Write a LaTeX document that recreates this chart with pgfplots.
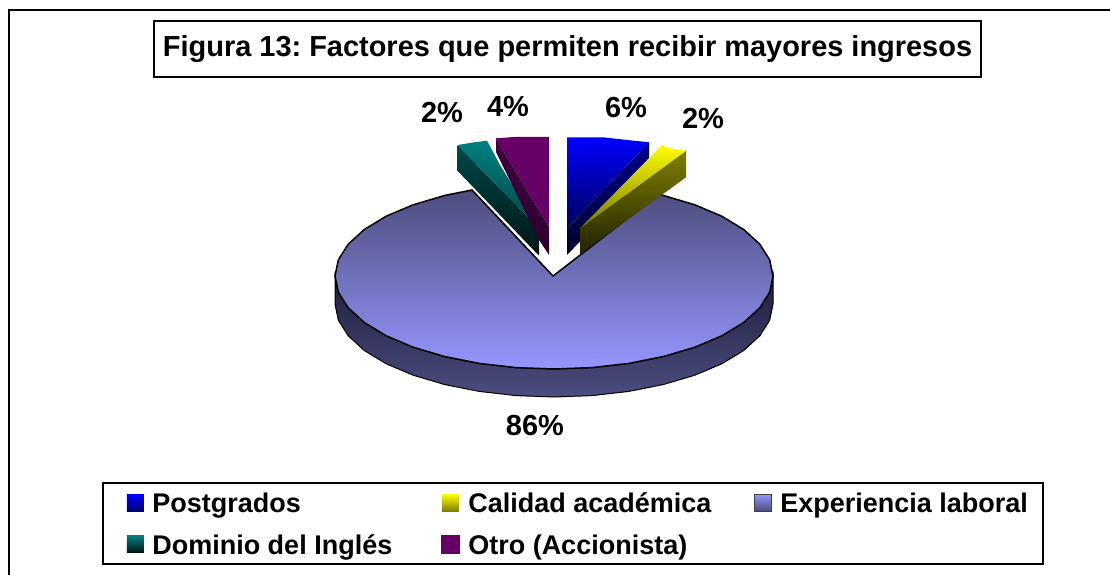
\documentclass[border=0pt]{standalone}
\usepackage{fontspec}
\setmainfont{Liberation Sans}
\usepackage{pgfplots}
\pgfplotsset{compat=1.18}
\definecolor{discTop}{HTML}{4C4C7C}
\definecolor{discBot}{HTML}{9696FF}
\definecolor{edgeTop}{HTML}{1E1E3C}
\definecolor{edgeBot}{HTML}{4D4D80}
\newcommand{\titlefont}{\fontsize{28.95}{32}\selectfont\bfseries}
\newcommand{\legfont}{\fontsize{27}{30}\selectfont\bfseries}
\newcommand{\labfont}{\fontsize{29}{32}\selectfont\bfseries}
\newcommand{\swatch}[3]{\fill[draw=none,top color=#1,bottom color=#2,#3] (0pt,-8.5pt) rectangle (17pt,8.5pt);}
\newcommand{\lstrut}{\rule[-6pt]{0pt}{28pt}}
\begin{document}
\frenchspacing
\begin{tikzpicture}
\begin{axis}[
  name=ax,
  scale only axis, width=1110pt, height=575pt,
  xmin=0, xmax=1110, ymin=0, ymax=575, y dir=reverse,
  axis lines=none, clip=true,
  every axis title shift=0pt,
  title={\raisebox{-1.5pt}{Figura 13: Factores que permiten recibir mayores ingresos}},
  title style={at={(0.5113,0.9148)},anchor=center,draw=black,line width=1.5pt,fill=white,
    font=\titlefont,minimum width=827pt,minimum height=56pt,inner sep=0pt},
  legend columns=3,
  legend cell align=left,
  legend style={at={(0.0919,0.1617)},anchor=north west,draw=black,line width=1.5pt,
    font=\legfont,inner xsep=13pt,inner ysep=6pt,row sep=14pt,
    /tikz/every odd column/.append style={column sep=6.5pt},
    /tikz/every even column/.append style={column sep=40.5pt}},
]
% legend
\addlegendimage{legend image code/.code={\path[draw=none] (-11pt,0pt) -- (0pt,0pt);\swatch{blue}{black!55!blue}{}}}
\addlegendentry{\lstrut Postgrados}
\addlegendimage{legend image code/.code={\swatch{yellow}{black!50!yellow}{}}}
\addlegendentry{\lstrut Calidad académica}
\addlegendimage{legend image code/.code={\swatch{discBot}{discTop}{draw=black!75,line width=1pt}}}
\addlegendentry{\lstrut Experiencia laboral}
\addlegendimage{legend image code/.code={\path[draw=none] (-11pt,0pt) -- (0pt,0pt);\swatch{teal}{black!85!teal}{}}}
\addlegendentry{\lstrut Dominio del Inglés\rule{6pt}{0pt}}
\addlegendimage{legend image code/.code={\fill[draw=none,fill={rgb,255:red,102;green,0;blue,102}] (-1pt,-9.5pt) rectangle (18pt,9.5pt);}}
\addlegendentry{\lstrut Otro (Accionista)}

% outer frame
\addplot[forget plot,black,line width=2pt] coordinates {(9,580) (9,10) (1115,10)};

% disc edge
\addplot[forget plot,draw=black,line width=1pt,top color=edgeTop,bottom color=edgeBot] coordinates {
 (773,276) (769.7,292.1) (759.8,307.8) (743.7,322.5) (721.8,335.8) (694.8,347.2) (663.5,356.5)
 (628.9,363.4) (592,367.6) (554,369) (516,367.6) (479.1,363.4) (444.5,356.5) (413.2,347.2)
 (386.2,335.8) (364.3,322.5) (348.2,307.8) (338.3,292.1) (335,276)
 (335,304) (338.3,320.1) (348.2,335.8) (364.3,350.5) (386.2,363.8) (413.2,375.2) (444.5,384.5)
 (479.1,391.4) (516,395.6) (554,397) (592,395.6) (628.9,391.4) (663.5,384.5) (694.8,375.2)
 (721.8,363.8) (743.7,350.5) (759.8,335.8) (769.7,320.1) (773,304)
} --cycle;
% disc top (86%)
\addplot[forget plot,draw=black,line width=1.5pt,top color=discTop,bottom color=discBot] coordinates {
 (553,276) (659,194.3) (663.5,195.5) (694.8,204.8) (721.8,216.2) (743.7,229.5) (759.8,244.2) (769.7,259.9)
 (773,276) (769.7,292.1) (759.8,307.8) (743.7,322.5) (721.8,335.8) (694.8,347.2) (663.5,356.5)
 (628.9,363.4) (592,367.6) (554,369) (516,367.6) (479.1,363.4) (444.5,356.5) (413.2,347.2)
 (386.2,335.8) (364.3,322.5) (348.2,307.8) (338.3,292.1) (335,276) (338.3,259.9) (348.2,244.2)
 (364.3,229.5) (386.2,216.2) (413.2,204.8) (444.5,195.5) (472,190)
} --cycle;

% blue 6%
\addplot[forget plot,draw=none,top color={rgb,255:red,0;green,0;blue,140},bottom color={rgb,255:red,0;green,0;blue,40}] coordinates {
 (649,142.3) (649,170) (567,255) (567,228.3)} --cycle;
\addplot[forget plot,draw=none,top color=blue,bottom color={rgb,255:red,0;green,0;blue,90}] coordinates {
 (567,228.3) (567,137.3) (603,137.3) (627,140) (649,142.3)} --cycle;
% yellow 2%
\addplot[forget plot,draw=none,top color={rgb,255:red,128;green,128;blue,0},bottom color={rgb,255:red,32;green,32;blue,0}] coordinates {
 (686,150.7) (686,177.3) (580,254.3) (580,228.3)} --cycle;
\addplot[forget plot,draw=none,top color=yellow,bottom color={rgb,255:red,120;green,120;blue,0}] coordinates {
 (580,228.3) (662,145) (668,148) (686,150.7)} --cycle;
% teal 2%
\addplot[forget plot,draw=none,top color={rgb,255:red,0;green,72;blue,72},bottom color={rgb,255:red,0;green,20;blue,20}] coordinates {
 (457.7,145) (539,228.3) (539,255.7) (457.7,171)} --cycle;
\addplot[forget plot,draw=none,top color=teal,bottom color={rgb,255:red,0;green,70;blue,70}] coordinates {
 (539,228.3) (457.7,145) (473,142.5) (487,140.7) (500,165)} --cycle;
% purple 4%
\addplot[forget plot,draw=none,top color={rgb,255:red,64;green,0;blue,64},bottom color={rgb,255:red,44;green,0;blue,44}] coordinates {
 (496,138.3) (549,227) (549,255) (539,240) (496,152)} --cycle;
\addplot[forget plot,draw=none,fill={rgb,255:red,102;green,0;blue,102}] coordinates {
 (549,227) (496,138.3) (517,136.8) (549,136.8)} --cycle;

% data labels
\node[font=\labfont] at (axis cs:626,108) {6\%};
\node[font=\labfont] at (axis cs:703,118) {2\%};
\node[font=\labfont] at (axis cs:508,107) {4\%};
\node[font=\labfont] at (axis cs:442,112) {2\%};
\node[font=\labfont] at (axis cs:535,426) {86\%};
\end{axis}
\pgfresetboundingbox
\path (ax.south west) rectangle (ax.north east);
\end{tikzpicture}
\end{document}
